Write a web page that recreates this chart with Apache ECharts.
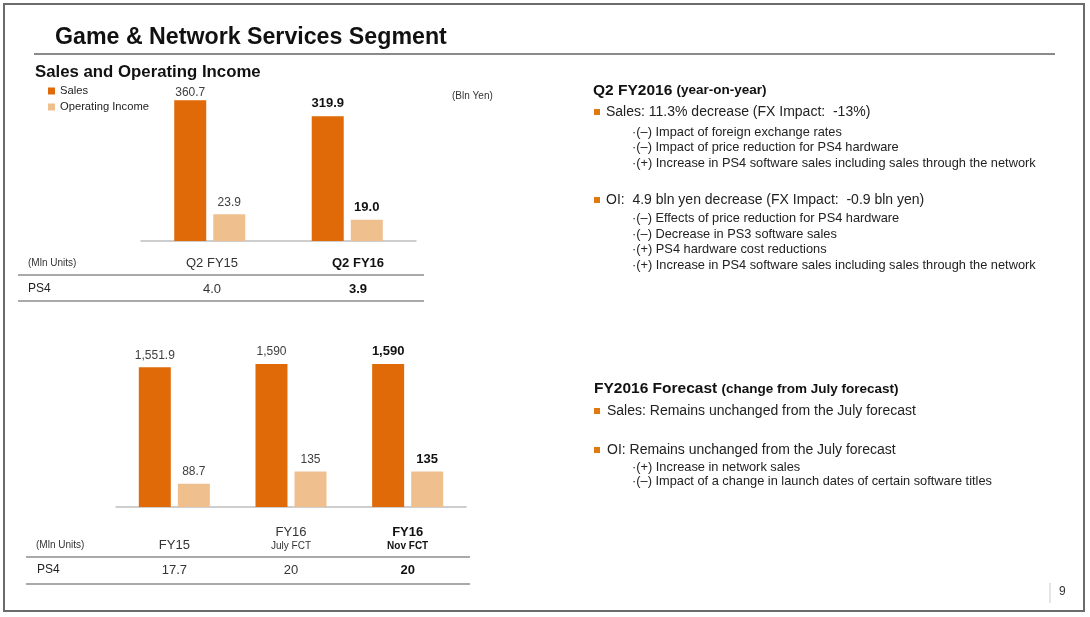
<!DOCTYPE html>
<html>
<head>
<meta charset="utf-8">
<title>Game &amp; Network Services Segment</title>
<script src="https://cdn.jsdelivr.net/npm/echarts@6/dist/echarts.min.js"></script>
<style>
  html, body { margin: 0; padding: 0; background: #fff; }
  #chart { width: 1090px; height: 617px; }
</style>
</head>
<body>
<div id="chart"></div>
<script>
// Q2 year-on-year (Bln Yen)
const q2Categories = ["Q2 FY15", "Q2 FY16"];
const q2Sales = [360.7, 319.9];
const q2OperatingIncome = [23.9, 19.0];
const q2Ps4Units = ["4.0", "3.9"]; // Mln Units

// full year + forecasts (Bln Yen)
const fyCategories = ["FY15", "FY16\nJuly FCT", "FY16\nNov FCT"];
const fySales = [1551.9, 1590, 1590];
const fyOperatingIncome = [88.7, 135, 135];
const fyPs4Units = ["17.7", "20", "20"]; // Mln Units

const SALES = "#E06A08";
const OI = "#F0BF8E";
const BULLET = "#E07A10";
const FONT = '"Liberation Sans", Arial, sans-serif';

const chart = echarts.init(document.getElementById("chart"));

// last column of every block is printed in bold
const boldLast = (arr, boldLabel) =>
  arr.map((v, i) => (i === arr.length - 1 ? { value: v, label: boldLabel } : v));

const catFormatter = (list) => (value, index) => {
  const parts = value.split("\n");
  const b = index === list.length - 1 ? "B" : "";
  return parts.length > 1
    ? "{m" + b + "|" + parts[0] + "}\n{s" + b + "|" + parts[1] + "}"
    : "{m" + b + "|" + parts[0] + "}";
};
const catRich = {
  m: { fontSize: 13, color: "#333", fontFamily: FONT, lineHeight: 15 },
  mB: { fontSize: 13, color: "#111", fontWeight: "bold", fontFamily: FONT, lineHeight: 15 },
  s: { fontSize: 10, color: "#333", fontFamily: FONT, lineHeight: 13 },
  sB: { fontSize: 10, color: "#111", fontWeight: "bold", fontFamily: FONT, lineHeight: 13 },
};

const valueLabel = {
  show: true,
  position: "top",
  distance: 6,
  fontSize: 12,
  color: "#404040",
  fontFamily: FONT,
};
const boldValue = { fontWeight: "bold", fontSize: 13, color: "#111" };

const fmt1 = (p) => p.value.toLocaleString("en-US", { minimumFractionDigits: 1 });
const fmtK = (p) => p.value.toLocaleString("en-US");

const axisLineStyle = { show: true, lineStyle: { color: "#BFBFBF", width: 1.5 } };

// first Q2 sales label sits tight on its bar (legend space above)
const q2SalesData = boldLast(q2Sales, boldValue);
q2SalesData[0] = { value: q2Sales[0], label: { distance: 2 } };

// text helpers for the slide
const txt = (x, y, text, font, fill, extra) => ({
  type: "text",
  x: x,
  y: y,
  style: Object.assign(
    {
      text: text,
      font: font,
      fill: fill || "#222",
      align: "left",
      verticalAlign: "middle",
      textAlign: "left",
      textVerticalAlign: "middle",
    },
    extra || {}
  ),
});
const square = (x, y) => ({
  type: "rect",
  shape: { x: x, y: y - 3, width: 6, height: 6 },
  style: { fill: BULLET },
});
const hline = (x1, x2, y, color, w) => ({
  type: "line",
  shape: { x1: x1, y1: y, x2: x2, y2: y },
  style: { stroke: color, lineWidth: w },
});

const f = (size, bold) => (bold ? "bold " : "") + size + "px " + FONT;
const headRich = {
  a: { fontSize: 15.5, fontWeight: "bold", fontFamily: FONT, fill: "#111" },
  b: { fontSize: 13.5, fontWeight: "bold", fontFamily: FONT, fill: "#111" },
};
const SUB = 12.8;

const graphics = [
  // slide frame
  {
    type: "rect",
    shape: { x: 4, y: 4, width: 1080, height: 607 },
    style: { fill: "none", stroke: "#6b6b6b", lineWidth: 2 },
  },
  txt(55, 37.5, "Game & Network Services Segment", f(23.2, true), "#111"),
  hline(34, 1055, 54, "#8a8a8a", 2),
  txt(35, 72, "Sales and Operating Income", f(16.8, true), "#111"),
  txt(452, 96, "(Bln Yen)", f(10), "#333"),

  // table under Q2 chart
  txt(28, 263, "(Mln Units)", f(10), "#333"),
  hline(18, 424, 275, "#8c8c8c", 1.5),
  txt(28, 289, "PS4", f(12), "#222"),
  hline(18, 424, 301, "#8c8c8c", 1.5),

  // table under FY chart
  txt(36, 545, "(Mln Units)", f(10), "#333"),
  hline(26, 470, 557, "#8c8c8c", 1.5),
  txt(37, 570, "PS4", f(12), "#222"),
  hline(26, 470, 584, "#8c8c8c", 1.5),

  // right hand comments
  txt(593, 90.5, "{a|Q2 FY2016} {b|(year-on-year)}", f(15.5, true), "#111", { rich: headRich }),
  square(594, 112),
  txt(606, 112, "Sales: 11.3% decrease (FX Impact:  -13%)", f(14)),
  txt(632, 132, "·(–) Impact of foreign exchange rates", f(SUB)),
  txt(632, 147.5, "·(–) Impact of price reduction for PS4 hardware", f(SUB)),
  txt(632, 163, "·(+) Increase in PS4 software sales including sales through the network", f(SUB)),
  square(594, 200),
  txt(606, 200, "OI:  4.9 bln yen decrease (FX Impact:  -0.9 bln yen)", f(14)),
  txt(632, 218, "·(–) Effects of price reduction for PS4 hardware", f(SUB)),
  txt(632, 234, "·(–) Decrease in PS3 software sales", f(SUB)),
  txt(632, 249.5, "·(+) PS4 hardware cost reductions", f(SUB)),
  txt(632, 265, "·(+) Increase in PS4 software sales including sales through the network", f(SUB)),

  txt(594, 389, "{a|FY2016 Forecast} {b|(change from July forecast)}", f(15.5, true), "#111", { rich: headRich }),
  square(594, 411),
  txt(607, 411, "Sales: Remains unchanged from the July forecast", f(14)),
  square(594, 450),
  txt(607, 450, "OI: Remains unchanged from the July forecast", f(14)),
  txt(632, 467, "·(+) Increase in network sales", f(SUB)),
  txt(632, 481, "·(–) Impact of a change in launch dates of certain software titles", f(SUB)),

  // page number
  {
    type: "line",
    shape: { x1: 1050, y1: 583, x2: 1050, y2: 603 },
    style: { stroke: "#cccccc", lineWidth: 1 },
  },
  txt(1059, 592, "9", f(12), "#333"),
];

const option = {
  animation: false,
  backgroundColor: "#fff",
  textStyle: { fontFamily: FONT },
  legend: {
    data: ["Sales", "Operating Income"],
    orient: "vertical",
    left: 43,
    top: 80,
    itemWidth: 7,
    itemHeight: 7,
    itemGap: 4,
    icon: "rect",
    selectedMode: false,
    textStyle: { fontSize: 11.2, color: "#222", fontFamily: FONT, lineHeight: 12 },
  },
  grid: [
    { left: 141, right: 674, top: 85, height: 156 }, // Q2 bars
    { left: 116, right: 624, top: 345, height: 162 }, // FY bars
    { left: 139, right: 659, top: 240, height: 1 }, // Q2 table labels
  ],
  xAxis: [
    {
      type: "category",
      gridIndex: 0,
      data: q2Categories,
      axisLine: axisLineStyle,
      axisTick: { show: false },
      axisLabel: { show: false },
    },
    {
      type: "category",
      gridIndex: 2,
      position: "bottom",
      data: q2Categories,
      axisLine: { show: false },
      axisTick: { show: false },
      axisLabel: { margin: 15, formatter: catFormatter(q2Categories), rich: catRich },
    },
    {
      type: "category",
      gridIndex: 2,
      position: "bottom",
      offset: 33,
      data: q2Ps4Units,
      axisLine: { show: false },
      axisTick: { show: false },
      axisLabel: { margin: 8, formatter: catFormatter(q2Ps4Units), rich: catRich },
    },
    {
      type: "category",
      gridIndex: 1,
      position: "bottom",
      data: fyCategories,
      axisLine: axisLineStyle,
      axisTick: { show: false },
      axisLabel: {
        margin: 46,
        verticalAlign: "bottom",
        formatter: catFormatter(fyCategories),
        rich: catRich,
      },
    },
    {
      type: "category",
      gridIndex: 1,
      position: "bottom",
      offset: 48,
      data: fyPs4Units,
      axisLine: { show: false },
      axisTick: { show: false },
      axisLabel: { margin: 8, formatter: catFormatter(fyPs4Units), rich: catRich },
    },
  ],
  yAxis: [
    { type: "value", gridIndex: 0, min: 0, max: 400, show: false },
    { type: "value", gridIndex: 0, min: 0, max: 140, show: false },
    { type: "value", gridIndex: 2, min: 0, max: 1, show: false },
    { type: "value", gridIndex: 1, min: 0, max: 1800, show: false },
    { type: "value", gridIndex: 1, min: 0, max: 615, show: false },
  ],
  series: [
    {
      name: "Sales",
      type: "bar",
      xAxisIndex: 0,
      yAxisIndex: 0,
      barWidth: 32,
      barGap: "22%",
      itemStyle: { color: SALES },
      label: Object.assign({ formatter: fmt1 }, valueLabel),
      data: q2SalesData,
    },
    {
      name: "Operating Income",
      type: "bar",
      xAxisIndex: 0,
      yAxisIndex: 1,
      barWidth: 32,
      barGap: "22%",
      itemStyle: { color: OI },
      label: Object.assign({ formatter: fmt1 }, valueLabel),
      data: boldLast(q2OperatingIncome, boldValue),
    },
    {
      name: "Sales",
      type: "bar",
      xAxisIndex: 3,
      yAxisIndex: 3,
      barWidth: 32,
      barGap: "22%",
      itemStyle: { color: SALES },
      label: Object.assign({ formatter: fmtK }, valueLabel),
      data: boldLast(fySales, boldValue),
    },
    {
      name: "Operating Income",
      type: "bar",
      xAxisIndex: 3,
      yAxisIndex: 4,
      barWidth: 32,
      barGap: "22%",
      itemStyle: { color: OI },
      label: Object.assign({ formatter: fmtK }, valueLabel),
      data: boldLast(fyOperatingIncome, boldValue),
    },
  ],
  graphic: graphics,
};

chart.setOption(option);
window.addEventListener("resize", () => chart.resize());
</script>
</body>
</html>
